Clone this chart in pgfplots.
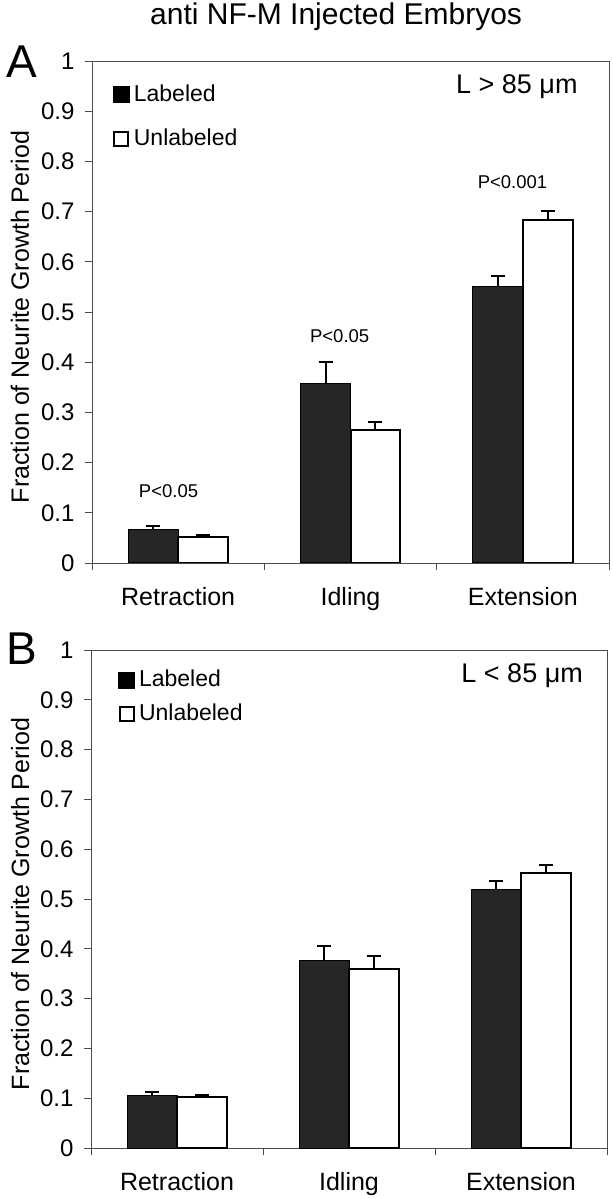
\documentclass[border=0pt]{standalone}
\usepackage{fontspec}
\setmainfont{Liberation Sans}
\usepackage{pgfplots}
\usepackage{pgfplotstable}
\pgfplotsset{compat=1.18}
\newcommand{\fs}[1]{\fontsize{#1bp}{#1bp}\selectfont}

\pgfplotstableread{
x lab labe unl unle
0 0.067 0.007 0.051 0.004
1 0.358 0.042 0.264 0.017
2 0.551 0.021 0.683 0.018
}\dataA
\pgfplotstableread{
x lab labe unl unle
0 0.106 0.006 0.103 0.004
1 0.376 0.030 0.359 0.027
2 0.519 0.017 0.553 0.015
}\dataB

\pgfplotsset{
  panel/.style={
    scale only axis,
    xmin=-0.5, xmax=2.5, ymin=0, ymax=1,
    ybar=0pt, bar width=0.29,
    xtick={-0.5,0.5,1.5,2.5}, xticklabels={},
    extra x ticks={0,1,2},
    extra x tick labels={Retraction,Idling,Extension},
    extra x tick style={major tick length=0pt,
      tick label style={font=\fs{25}, yshift=-21bp}},
    ytick={0,0.1,0.2,0.3,0.4,0.5,0.6,0.7,0.8,0.9,1},
    yticklabels={0,0.1,0.2,0.3,0.4,0.5,0.6,0.7,0.8,0.9,1},
    yticklabel style={font=\fs{24}, xshift=-7bp},
    tick align=outside, major tick length=7bp,
    xtick pos=bottom, ytick pos=left,
    axis line style={black!70, line width=0.8bp},
    every tick/.style={black!70, line width=0.8bp},
    ylabel={Fraction of Neurite Growth Period},
    ylabel style={font=\fs{25}, anchor=base},
    legend style={draw=none, fill=none, anchor=north west,
      font=\fs{23}, inner sep=0pt,
      /tikz/every odd column/.append style={column sep=2bp},
      cells={anchor=west}},
  },
  ebars/.style={
    error bars/y dir=plus, error bars/y explicit,
    error bars/error bar style={black, line width=2bp},
    error bars/error mark=-,
    error bars/error mark options={rotate=90, black, line width=2bp, mark size=7bp}},
  labbar/.style={fill=black!85, draw=black, line width=1bp, ebars,
    legend image code/.code={\draw[fill=black, draw=black, line width=1bp] (0bp,-9bp) rectangle (16bp,7bp);}},
  unlbar/.style={fill=white, draw=black, line width=2bp, ebars,
    legend image code/.code={\draw[fill=white, draw=black, line width=2bp] (1bp,-8bp) rectangle (15bp,6bp);}},
}

\begin{document}
\begin{tikzpicture}[x=1bp,y=1bp]
\useasboundingbox (0,0) rectangle (613,1199);
\node[anchor=base west, font=\fs{30}, inner sep=0pt] at (150,1174) {anti NF-M Injected Embryos};
\node[anchor=base west, font=\fs{46}, inner sep=0pt] at (6,1121) {A};
\node[anchor=base west, font=\fs{46}, inner sep=0pt] at (6,534) {B};

\begin{axis}[panel, at={(92bp,636bp)}, anchor=south west,
  width=517bp, height=502bp,
  ylabel style={at={(rel axis cs:-0.122,0.49)}},
  legend style={at={(rel axis cs:0.04,0.957)}, row sep=22bp}]
\addplot[labbar] table[x=x, y=lab, y error=labe] {\dataA};
\addplot[unlbar] table[x=x, y=unl, y error=unle] {\dataA};
\legend{Labeled, Unlabeled}
\node[font=\fs{27}, anchor=east] at (rel axis cs:0.946,0.948) {L > 85 μm};
\node[font=\fs{18.5}] at (axis cs:-0.056,0.143) {P<0.05};
\node[font=\fs{18.5}] at (axis cs:0.937,0.452) {P<0.05};
\node[font=\fs{18.5}] at (axis cs:1.94,0.759) {P<0.001};
\end{axis}

\begin{axis}[panel, at={(91bp,51bp)}, anchor=south west,
  width=516bp, height=498bp,
  ylabel style={at={(rel axis cs:-0.120,0.49)}},
  legend style={at={(rel axis cs:0.052,0.964)}, row sep=12bp}]
\addplot[labbar] table[x=x, y=lab, y error=labe] {\dataB};
\addplot[unlbar] table[x=x, y=unl, y error=unle] {\dataB};
\legend{Labeled, Unlabeled}
\node[font=\fs{27}, anchor=east] at (rel axis cs:0.96,0.949) {L < 85 μm};
\end{axis}
\end{tikzpicture}
\end{document}
